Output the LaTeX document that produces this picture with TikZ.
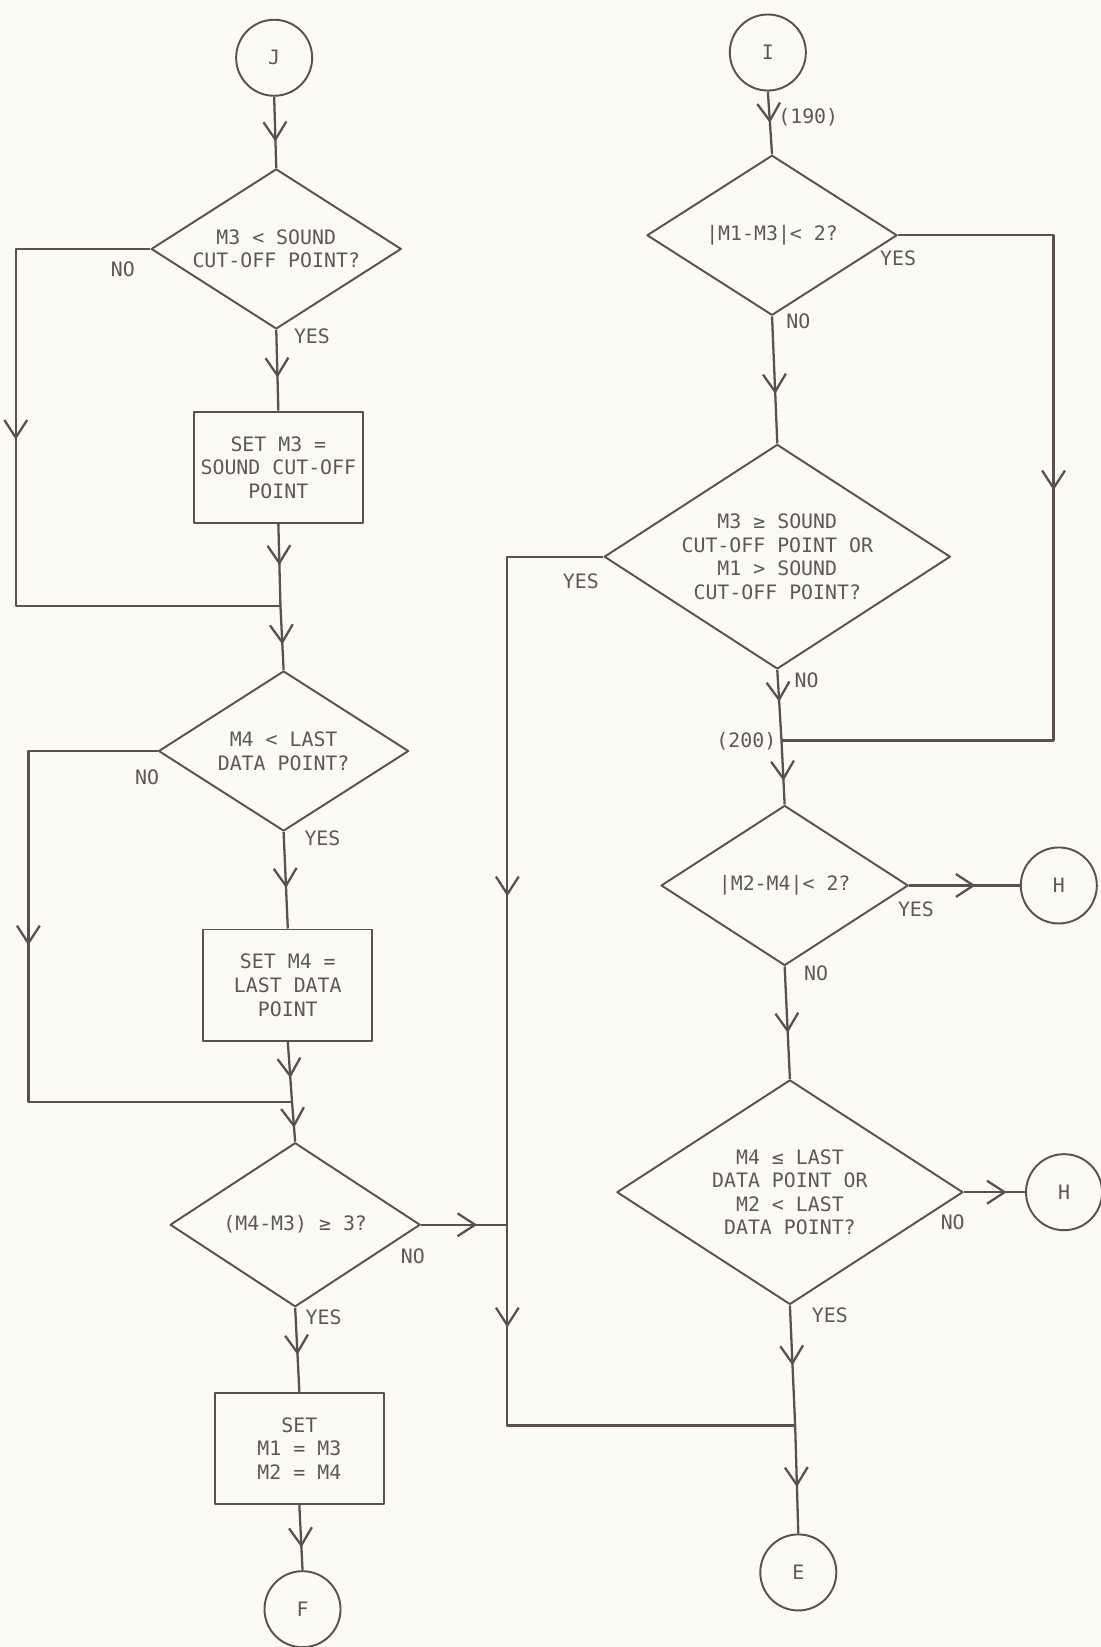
\documentclass[tikz,border=0pt]{standalone}
\usepackage{fontspec}
\usetikzlibrary{shapes.geometric}
\usetikzlibrary{arrows.meta}
\usetikzlibrary{decorations.markings}
\newfontfamily\typer{DejaVu Sans Mono}
\definecolor{ink}{RGB}{90,80,82}
\definecolor{typeink}{RGB}{92,88,90}
\definecolor{paper}{RGB}{251,251,244}

\tikzset{
    >={Straight Barb[length=10pt,width=13pt]},
    every node/.style={font=\typer\fontsize{11.3pt}{13.4pt}\selectfont, text=typeink},
    flow/.style={draw=ink, line width=1.3pt, postaction={decorate},
        decoration={markings, mark=at position #1 with {\arrow[line width=1.3pt]{>}}}},
    term/.style={circle, draw=ink, line width=1.1pt, minimum size=1.52cm, inner sep=0pt},
    decision/.style={diamond, draw=ink, line width=1.1pt, aspect=1.55, inner sep=0pt,
        minimum width=5cm, minimum height=3.2cm, align=center},
    wide decision/.style={decision, minimum width=6.92cm, minimum height=4.49cm},
    process/.style={rectangle, draw=ink, line width=1.1pt, minimum width=3.38cm,
        minimum height=2.23cm, align=center},
    tag/.style={inner sep=1pt}
}

\begin{document}
\begin{tikzpicture}[x=0.021cm, y=-0.021cm, line join=round]
    \path[use as bounding box, fill=paper] (0,0) rectangle (1048,1568);

    % left column
    \node[term] (j) at (261,55) {J};
    \node[decision] (d1) at (263,237) {M3 < SOUND\\CUT-OFF POINT?};
    \node[process] (b1) at (265,445) {SET M3 =\\SOUND CUT-OFF\\POINT};
    \coordinate (jn1) at (267,577);
    \coordinate (c1) at (15,577);
    \node[decision] (d2) at (270,715) {M4 < LAST\\DATA POINT?};
    \node[process] (b2) at (274,938) {SET M4 =\\LAST DATA\\POINT};
    \coordinate (jn2) at (278,1049);
    \coordinate (c2) at (27,1049);
    \node[decision, minimum height=3.28cm] (d3) at (281,1166) {(M4-M3) ≥ 3?};
    \node[process] (b3) at (285,1379) {SET\\M1 = M3\\M2 = M4};
    \node[term] (f) at (288,1532) {F};

    \draw[flow=0.63] (j.south) -- (d1.north);
    \draw[flow=0.59] (d1.south) -- (b1.north);
    \draw[flow=0.5] (b1.south) -- (jn1);
    \draw[flow=0.43] (d1.west) -| (c1) -- (jn1);
    \draw[flow=0.6] (jn1) -- (d2.north);
    \draw[flow=0.58] (d2.south) -- (b2.north);
    \draw[flow=0.6] (b2.south) -- (jn2);
    \draw[flow=0.435] (d2.west) -| (c2) -- (jn2);
    \draw[flow=0.65] (jn2) -- (d3.north);
    \draw[flow=0.56] (d3.south) -- (b3.north);
    \draw[flow=0.65] (b3.south) -- (f.north);

    \node[tag] (no1) at (117,256) {NO};
    \node[tag] (yes1) at (297,320) {YES};
    \node[tag] (no2) at (140,740) {NO};
    \node[tag] (yes2) at (307,798) {YES};
    \node[tag] (no3) at (393,1196) {NO};
    \node[tag] (yes3) at (308,1254) {YES};

    % right column
    \node[term] (i) at (731,50) {I};
    \node[decision] (d4) at (735,224) {|M1-M3|< 2?};
    \node[wide decision] (d5) at (740,530) {M3 ≥ SOUND\\CUT-OFF POINT OR\\M1 > SOUND\\CUT-OFF POINT?};
    \coordinate (jn3) at (744,705);
    \coordinate (c3) at (1003,705);
    \node[decision, minimum width=4.94cm] (d6) at (747,843) {|M2-M4|< 2?};
    \node[term] (h1) at (1008,843) {H};
    \node[wide decision] (d7) at (752,1135) {M4 ≤ LAST\\DATA POINT OR\\M2 < LAST\\DATA POINT?};
    \node[term] (h2) at (1013,1135) {H};
    \coordinate (jn4) at (757,1357);
    \coordinate (jn5) at (483,1166);
    \node[term] (e) at (760,1497) {E};

    \draw[flow=0.5] (i.south) -- (d4.north);
    \draw[flow=0.61] (d4.south) -- (d5.north);
    \draw[flow=0.44] (d4.east) -| (c3) -- (jn3);
    \draw[flow=0.45] (d5.south) -- (jn3);
    \draw[flow=0.63] (jn3) -- (d6.north);
    \draw[flow=0.6] (d6.east) -- (h1.west);
    \draw[flow=0.59] (d6.south) -- (d7.north);
    \draw[flow=0.7] (d7.east) -- (h2.west);
    \draw[flow=0.5] (d7.south) -- (jn4);
    \draw[flow=0.57] (jn4) -- (e.north);
    \draw[flow=0.57] (d5.west) -| (jn5);
    \draw[flow=0.21] (jn5) |- (jn4);
    \draw[flow=0.65] (d3.east) -- (jn5);

    \node[tag, anchor=west] (n190) at (739,112) {(190)};
    \node[tag, anchor=east] (n200) at (741,706) {(200)};
    \node[tag] (yes4) at (855,246) {YES};
    \node[tag] (no4) at (760,306) {NO};
    \node[tag] (yes5) at (553,553) {YES};
    \node[tag] (no5) at (768,648) {NO};
    \node[tag] (yes6) at (872,866) {YES};
    \node[tag] (no6) at (777,927) {NO};
    \node[tag] (no7) at (907,1164) {NO};
    \node[tag] (yes7) at (790,1252) {YES};
\end{tikzpicture}
\end{document}
